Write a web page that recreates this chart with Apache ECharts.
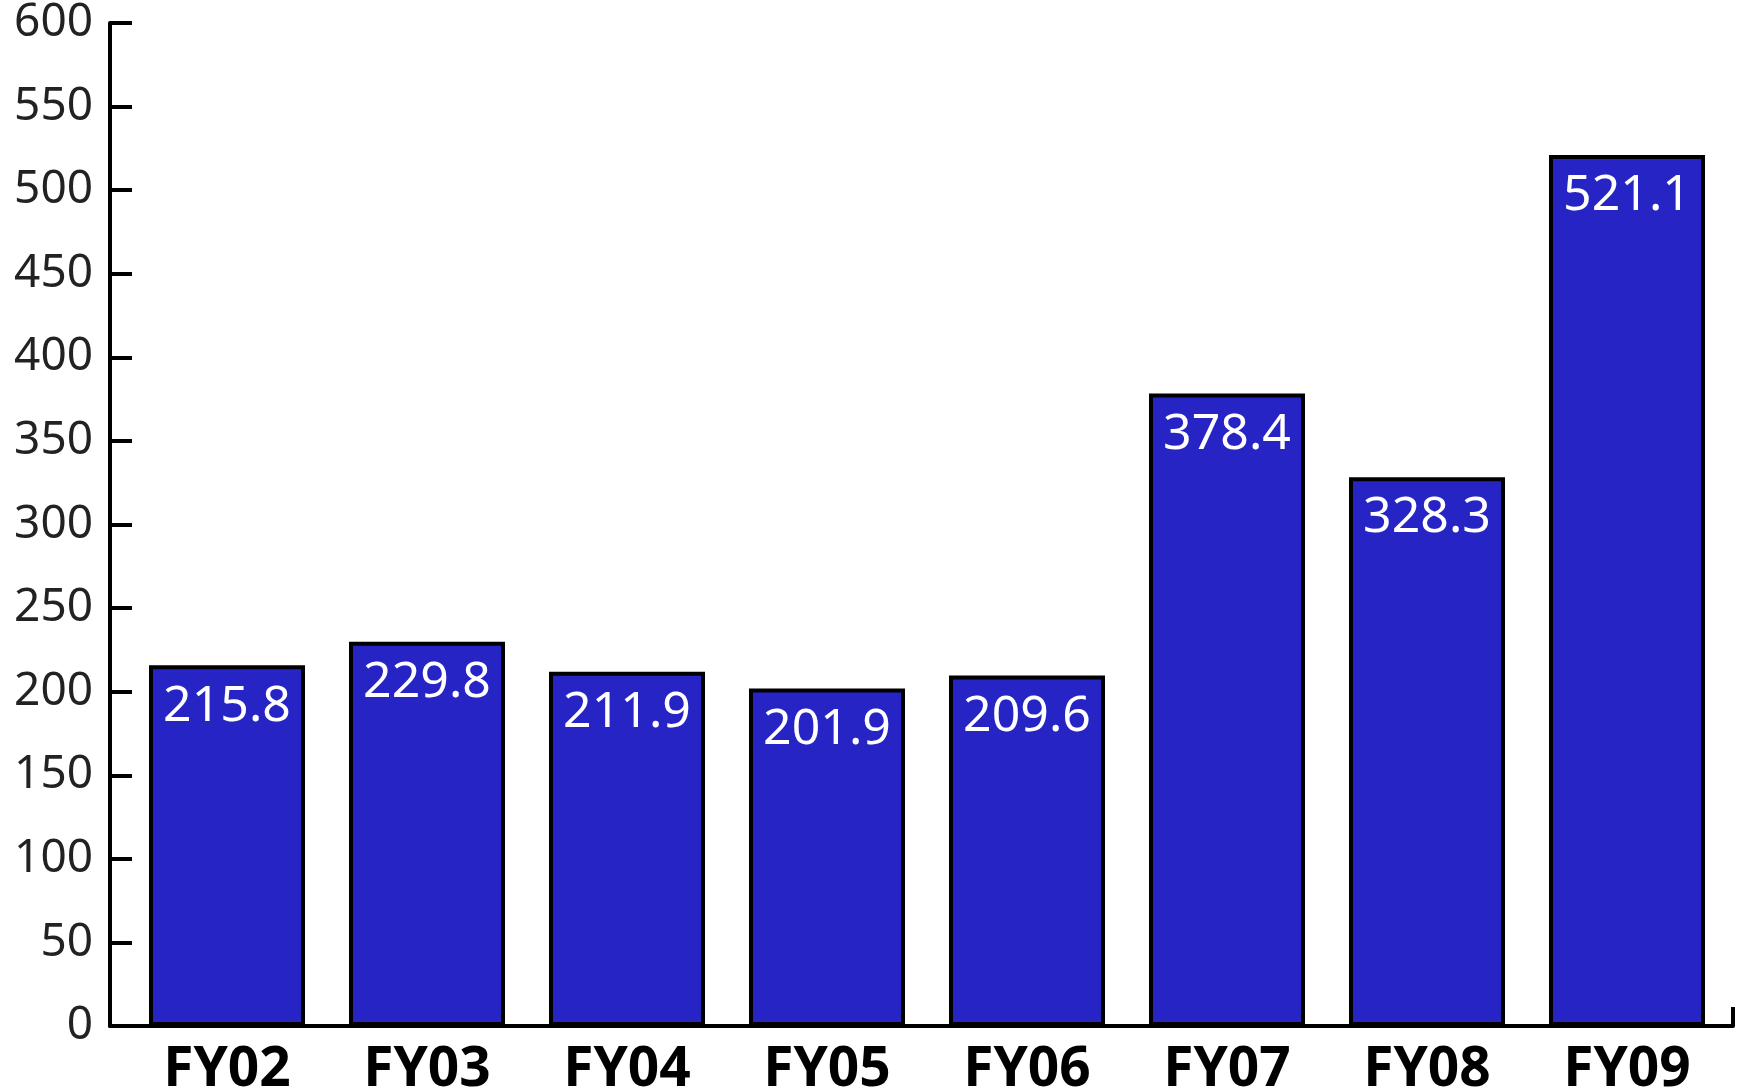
<!DOCTYPE html>
<html>
<head>
<meta charset="utf-8">
<script src="https://cdn.jsdelivr.net/npm/echarts@6/dist/echarts.min.js"></script>
<style>
html, body { margin: 0; padding: 0; background: #fff; }
#chart1 { width: 1737px; height: 1091px; }
</style>
</head>
<body>
<div id="chart1"></div>
<script>
// 类别与数值
var categories = ['FY02', 'FY03', 'FY04', 'FY05', 'FY06', 'FY07', 'FY08', 'FY09'];
var values = [215.8, 229.8, 211.9, 201.9, 209.6, 378.4, 328.3, 521.1];
var yMin = 0, yMax = 600, yStep = 50;

var chart1 = echarts.init(document.getElementById('chart1'));

var font = '"Noto Sans", "Open Sans", sans-serif';

var option = {
    animation: false,
    backgroundColor: '#fff',
    grid: [
        // 坐标轴框
        { left: 110, right: 4, top: 23, bottom: 65, outerBoundsMode: 'none', containLabel: false },
        // 柱子区域
        { left: 127, right: 10, top: 23, bottom: 65, outerBoundsMode: 'none', containLabel: false }
    ],
    xAxis: [
        {
            gridIndex: 0,
            type: 'value',
            min: 0,
            max: 1,
            interval: 1,
            axisLine: { show: true, lineStyle: { color: '#000', width: 4 } },
            axisTick: { show: true, inside: true, length: 19, lineStyle: { color: '#000', width: 4 } },
            axisLabel: { show: false },
            splitLine: { show: false }
        },
        {
            gridIndex: 1,
            type: 'category',
            data: categories,
            axisLine: { show: false },
            axisTick: { show: false },
            axisLabel: {
                margin: 17,
                color: '#000',
                fontFamily: font,
                fontWeight: 'bold',
                fontSize: 55
            }
        }
    ],
    yAxis: [
        {
            gridIndex: 0,
            type: 'value',
            min: yMin,
            max: yMax,
            interval: yStep,
            axisLine: { show: true, lineStyle: { color: '#000', width: 4 } },
            axisTick: { show: true, inside: true, length: 22, lineStyle: { color: '#000', width: 4 } },
            axisLabel: {
                margin: 17,
                color: '#222',
                fontFamily: font,
                fontSize: 46
            },
            splitLine: { show: false }
        },
        {
            gridIndex: 1,
            type: 'value',
            min: yMin,
            max: yMax,
            show: false,
            splitLine: { show: false }
        }
    ],
    series: [
        {
            type: 'bar',
            xAxisIndex: 1,
            yAxisIndex: 1,
            data: values,
            barWidth: 156,
            itemStyle: {
                color: '#2624c4',
                borderColor: '#000',
                borderWidth: 4
            },
            label: {
                show: true,
                position: 'insideTop',
                distance: 16,
                color: '#fff',
                fontFamily: font,
                fontSize: 50
            }
        }
    ]
};

chart1.setOption(option);
</script>
</body>
</html>
